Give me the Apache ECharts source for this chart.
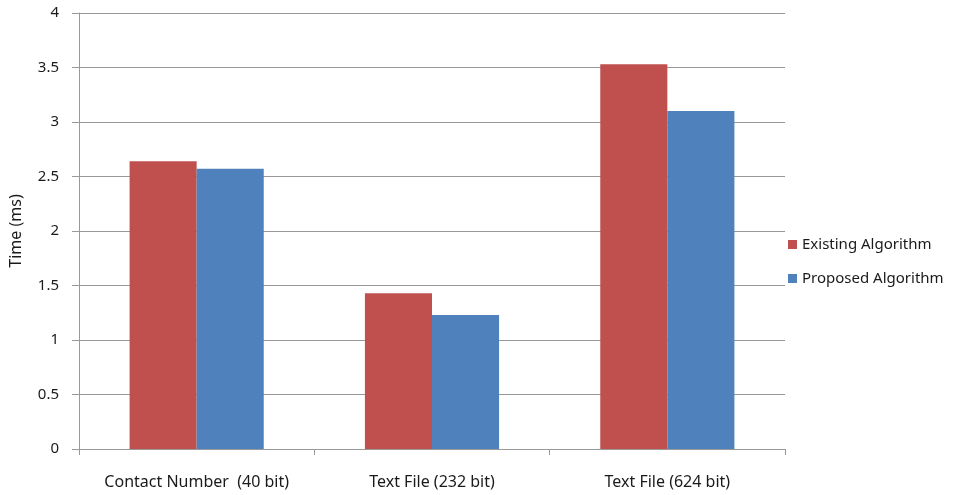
<!DOCTYPE html>
<html lang="en">
<head>
    <meta charset="UTF-8">
    <title>index</title>
    <script src="https://cdn.jsdelivr.net/npm/echarts@6/dist/echarts.min.js"></script>
    <style>
        html, body { margin: 0; padding: 0; background: #fff; }
        #chart { width: 959px; height: 495px; }
    </style>
</head>
<body>
<div id="chart"></div>
<script>
    var categories = ['Contact Number  (40 bit)', 'Text File (232 bit)', 'Text File (624 bit)'];
    var existing = [2.64, 1.43, 3.53];
    var proposed = [2.57, 1.23, 3.10];
    var yTicks = [0, 0.5, 1, 1.5, 2, 2.5, 3, 3.5, 4];

    var font = 'Noto Sans';
    var myChart = echarts.init(document.getElementById('chart'));

    var option = {
        animation: false,
        backgroundColor: '#fff',
        grid: { left: 77, right: 174, top: 13, bottom: 46 },
        legend: {
            orient: 'vertical',
            left: 783,
            top: 232,
            itemWidth: 9,
            itemHeight: 9,
            itemGap: 19,
            icon: 'rect',
            textStyle: { fontFamily: font, fontSize: 15, color: '#1a1a1a' },
            data: ['Existing Algorithm', 'Proposed Algorithm']
        },
        xAxis: {
            type: 'category',
            data: categories,
            axisLine: { lineStyle: { color: '#999', width: 1 } },
            axisTick: { show: true, interval: 0, length: 6, lineStyle: { color: '#999' } },
            axisLabel: { interval: 0, hideOverlap: false, fontFamily: font, fontSize: 16, color: '#1a1a1a', margin: 25 }
        },
        yAxis: {
            type: 'value',
            min: yTicks[0],
            max: yTicks[yTicks.length - 1],
            interval: 0.5,
            name: 'Time (ms)',
            nameLocation: 'middle',
            nameGap: 55,
            nameTextStyle: { fontFamily: font, fontSize: 16, color: '#1a1a1a' },
            axisLine: { show: true, lineStyle: { color: '#999' } },
            axisTick: { show: true, length: 7, lineStyle: { color: '#999' } },
            splitLine: { lineStyle: { color: '#999', width: 1 } },
            axisLabel: { fontFamily: font, fontSize: 15, color: '#1a1a1a', margin: 20 }
        },
        series: [
            {
                name: 'Existing Algorithm',
                type: 'bar',
                data: existing,
                barGap: '0%',
                barCategoryGap: '43%',
                itemStyle: { color: '#C0504D' }
            },
            {
                name: 'Proposed Algorithm',
                type: 'bar',
                data: proposed,
                itemStyle: { color: '#4F81BD' }
            }
        ]
    };
    myChart.setOption(option);
</script>
</body>
</html>
